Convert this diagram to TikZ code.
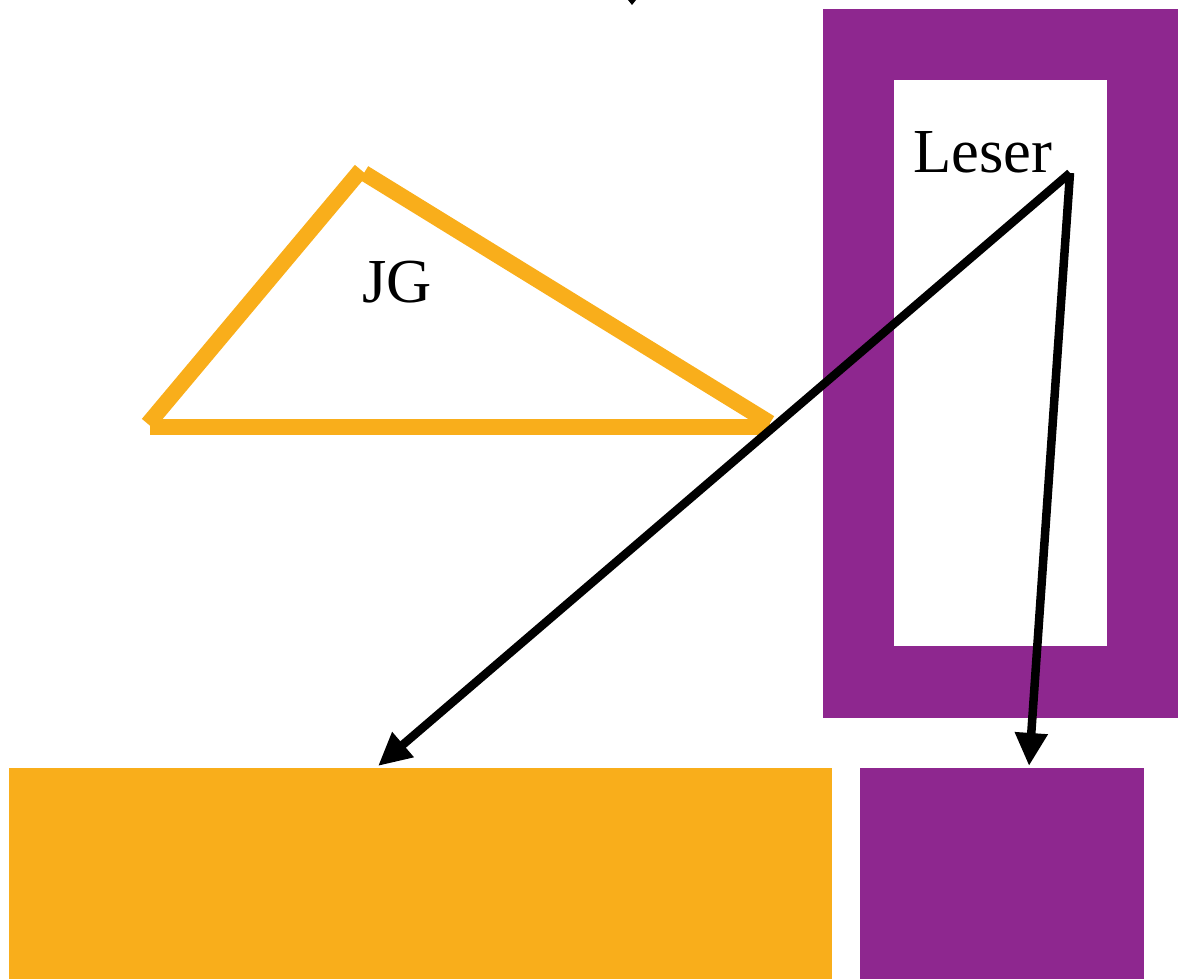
\documentclass[tikz,border=0pt]{standalone}
\usepackage{fontspec}
\setmainfont{Liberation Serif}
\usetikzlibrary{arrows.meta}
\definecolor{plum}{HTML}{8E278F}
\definecolor{amber}{HTML}{F9AE1B}
\tikzset{
  labeltext/.style={font=\fontsize{17.8}{20}\selectfont, inner sep=0pt},
  pointer/.style={black, line width=0.085cm, -{Triangle[length=0.33cm,width=0.31cm]}},
  edge/.style={amber, line width=0.16cm},
}
\begin{document}
\begin{tikzpicture}[x=0.01cm,y=-0.01cm]
  \useasboundingbox (0,0) rectangle (1179,979);
  % frame on the right
  \draw [plum, line width=0.71cm] (858.5,44.5) rectangle (1142.5,682);
  % boxes at the bottom
  \node [fill=amber, minimum width=8.23cm, minimum height=2.12cm, inner sep=0pt, anchor=north west] (jgbox) at (8,767) {};
  \node [fill=plum, minimum width=2.84cm, minimum height=2.12cm, inner sep=0pt, anchor=north west] (leserbox) at (859,767) {};
  % triangle
  \draw [edge]    (150,427) -- (770,427);
  \draw [edge]    (148,424) -- (361,170);
  \draw [edge]    (364,173) -- (770,423);
  \node [labeltext] (jg) at (397,282) {JG};
  \node [labeltext] (leser) at (983,152) {Leser};
  % mark at the top
  \fill [black] (628,0) -- (636,0) -- (632,5) -- cycle;
  % arrows
  \coordinate (src) at (1070,173);
  \coordinate (jgend) at (378,766);
  \coordinate (leserend) at (1029,766);
  \draw [pointer] (src) -- (jgend);
  \draw [pointer] (src) -- (leserend);
\end{tikzpicture}
\end{document}
